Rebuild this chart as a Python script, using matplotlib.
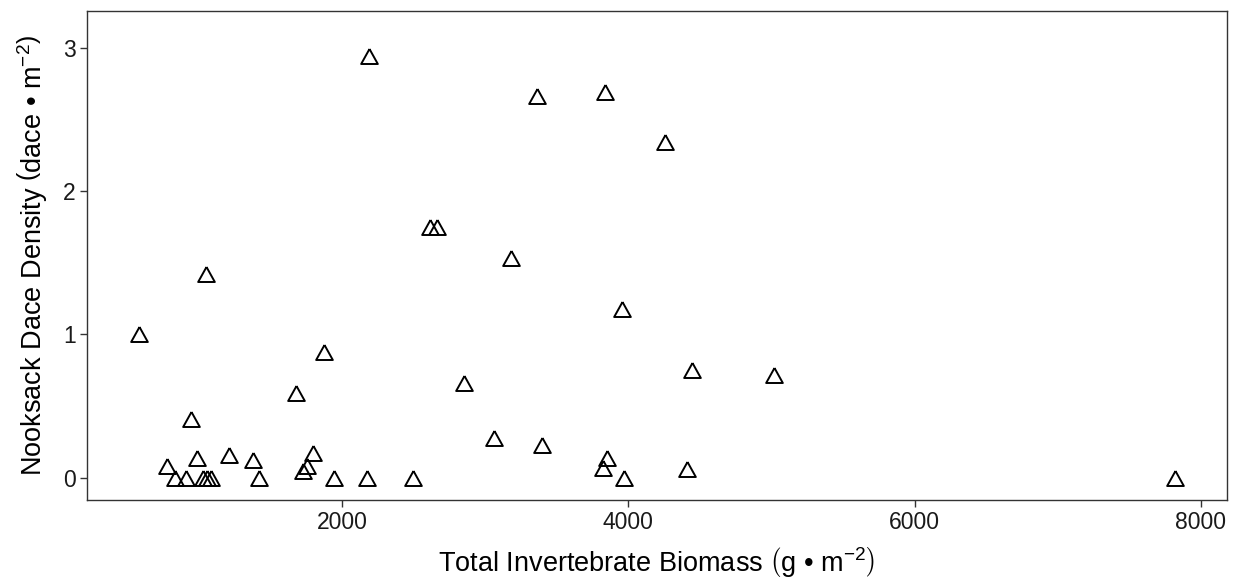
"""Nooksack dace density vs total invertebrate biomass."""

import matplotlib
matplotlib.use("Agg")
import matplotlib.pyplot as plt

plt.rcParams['font.family'] = ['Liberation Sans', 'DejaVu Sans']
plt.rcParams['mathtext.fontset'] = 'custom'
plt.rcParams['mathtext.rm'] = 'Liberation Sans'
plt.rcParams['mathtext.it'] = 'Liberation Sans:italic'

# values
biomass = [579, 1047, 942, 775, 831, 907, 984, 1026, 1053, 1081, 1207, 1374,
           1416, 1674, 1723, 1751, 1793, 1870, 1940, 2176, 2190, 2497, 2616,
           2665, 2853, 3062, 3181, 3362, 3397, 3822, 3850, 3836, 3955, 3969,
           4255, 4409, 4444, 5016, 7820]
density = [1.00, 1.42, 0.41, 0.084, 0.0, 0.0, 0.14, 0.0, 0.0, 0.0, 0.16, 0.125,
           0.0, 0.59, 0.05, 0.08, 0.17, 0.88, 0.0, 0.0, 2.94, 0.0, 1.75,
           1.75, 0.66, 0.28, 1.53, 2.66, 0.23, 0.07, 0.14, 2.69, 1.18, 0.0,
           2.34, 0.06, 0.75, 0.72, 0.0]

x_ticks = [2000, 4000, 6000, 8000]
y_ticks = [0, 1, 2, 3]

fig = plt.figure(figsize=(12.41, 5.84), dpi=100)
ax = fig.add_axes([0.0701, 0.1438, 0.9186, 0.8374])

tri = [(0, 0.9), (-1, -0.9), (1, -0.9), (0, 0.9)]
ax.plot(biomass, density, linestyle='none', marker=tri, markersize=12,
        markerfacecolor='none', markeredgecolor='black', markeredgewidth=1.4)

span = max(biomass) - min(biomass)
ax.set_xlim(min(biomass) - 0.05 * span, max(biomass) + 0.05 * span)
ax.set_ylim(-0.155, 3.255)
ax.set_xticks(x_ticks)
ax.set_yticks(y_ticks)

for s in ax.spines.values():
    s.set_color('#333333')
    s.set_linewidth(1.0)
ax.tick_params(length=5, width=1.0, color='#333333', labelcolor='#1a1a1a',
               labelsize=16.5, pad=3)

ax.set_xlabel(r'Total Invertebrate Biomass $\left(\mathrm{g\ •\ m^{-2}}\right)$',
              fontsize=19.5, labelpad=8)
ax.set_ylabel(r'Nooksack Dace Density $\left(\mathrm{dace\ •\ m^{-2}}\right)$',
              fontsize=19.5, labelpad=10)

fig.savefig('out.png', dpi=100)
